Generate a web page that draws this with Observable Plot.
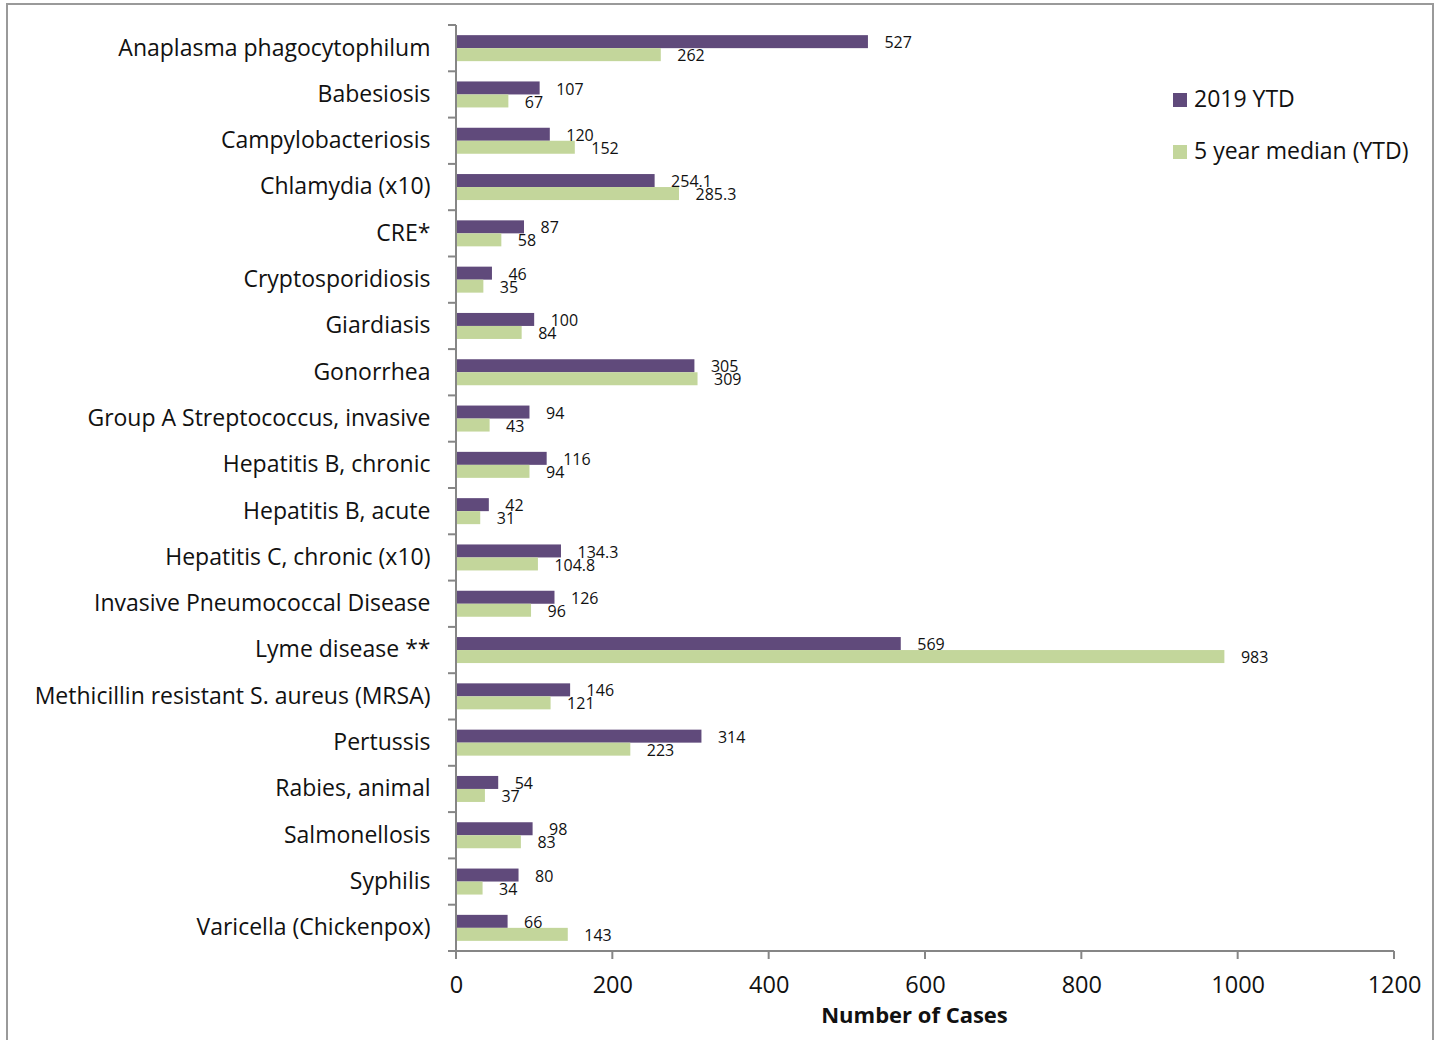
<!DOCTYPE html>
<html>
<head>
<meta charset="utf-8">
<script src="https://cdn.jsdelivr.net/npm/d3@7"></script>
<script src="https://cdn.jsdelivr.net/npm/@observablehq/plot@0.6"></script>
<style>
  html, body { margin: 0; padding: 0; background: #fff; }
  body { width: 1443px; height: 1040px; overflow: hidden; position: relative; font-family: "Open Sans", sans-serif; }
  #box { position: absolute; left: 6px; top: 3px; width: 1428px; height: 1100px; border: 2px solid #9a9a9a; box-sizing: border-box; }
  #chart { position: absolute; left: 0; top: 0; }
  .legend { position: absolute; left: 1173px; font-size: 23px; color: #111; font-family: "Open Sans", sans-serif; white-space: nowrap; }
  .legend span.sw { display: inline-block; width: 14px; height: 14px; margin-right: 7px; vertical-align: 0px; }
</style>
</head>
<body>
<div id="box"></div>
<div id="chart"></div>
<div class="legend" style="top:82px"><span class="sw" style="background:#604a7b"></span>2019 YTD</div>
<div class="legend" style="top:134px"><span class="sw" style="background:#c3d69b"></span>5 year median (YTD)</div>
<script>
const diseases = [
  "Anaplasma phagocytophilum",
  "Babesiosis",
  "Campylobacteriosis",
  "Chlamydia (x10)",
  "CRE*",
  "Cryptosporidiosis",
  "Giardiasis",
  "Gonorrhea",
  "Group A Streptococcus, invasive",
  "Hepatitis B, chronic",
  "Hepatitis B, acute",
  "Hepatitis C, chronic (x10)",
  "Invasive Pneumococcal Disease",
  "Lyme disease **",
  "Methicillin resistant S. aureus (MRSA)",
  "Pertussis",
  "Rabies, animal",
  "Salmonellosis",
  "Syphilis",
  "Varicella (Chickenpox)"
];
const ytd2019 = [527, 107, 120, 254.1, 87, 46, 100, 305, 94, 116, 42, 134.3, 126, 569, 146, 314, 54, 98, 80, 66];
const median5yr = [262, 67, 152, 285.3, 58, 35, 84, 309, 43, 94, 31, 104.8, 96, 983, 121, 223, 37, 83, 34, 143];
const xTicks = [0, 200, 400, 600, 800, 1000, 1200];

const seriesA = diseases.map((d, i) => ({disease: d, value: ytd2019[i]}));
const seriesB = diseases.map((d, i) => ({disease: d, value: median5yr[i]}));

const axisColor = "#868686";

// custom mark: axis lines and band-boundary ticks using the plot's scales
function axesLines(index, scales, values, dims) {
  const ns = "http://www.w3.org/2000/svg";
  const g = document.createElementNS(ns, "g");
  const x0 = scales.x(0), x1 = scales.x(1200);
  const top = dims.marginTop, bottom = dims.height - dims.marginBottom;
  function line(xa, ya, xb, yb) {
    const l = document.createElementNS(ns, "line");
    l.setAttribute("x1", xa); l.setAttribute("y1", ya);
    l.setAttribute("x2", xb); l.setAttribute("y2", yb);
    l.setAttribute("stroke", axisColor); l.setAttribute("stroke-width", 2);
    g.appendChild(l);
  }
  line(x0, top, x0, bottom);
  line(x0 - 8, bottom, x1, bottom);
  diseases.forEach(d => { const yy = scales.y(d); line(x0 - 8, yy, x0, yy); });
  xTicks.forEach(t => { const xx = scales.x(t); line(xx, bottom, xx, bottom + 8); });
  return g;
}

const chart = Plot.plot({
  width: 1443,
  height: 1040,
  marginLeft: 456,
  marginRight: 49,
  marginTop: 25,
  marginBottom: 89,
  style: {fontFamily: "Open Sans, sans-serif", background: "transparent", color: "#111"},
  x: {domain: [0, 1200], ticks: xTicks},
  y: {domain: diseases, padding: 0, align: 0.5, round: false},
  marks: [
    Plot.barX(seriesA, {y: "disease", x: "value", fill: "#604a7b", insetTop: 10.15, insetBottom: 23.15}),
    Plot.barX(seriesB, {y: "disease", x: "value", fill: "#c3d69b", insetTop: 23.15, insetBottom: 10.15}),
    Plot.text(seriesA, {y: "disease", x: "value", text: d => String(d.value), dx: 16, dy: -5.5, textAnchor: "start", fontSize: 16, fill: "#111"}),
    Plot.text(seriesB, {y: "disease", x: "value", text: d => String(d.value), dx: 16, dy: 7.5, textAnchor: "start", fontSize: 16, fill: "#111"}),
    Plot.axisY({tickSize: 0, tickPadding: 26, fontSize: 23, label: null, dy: -0.5}),
    Plot.axisX({ticks: xTicks, tickSize: 0, tickPadding: 25, fontSize: 23.5, label: null, tickFormat: d => String(d)}),
    axesLines,
    Plot.text(["Number of Cases"], {frameAnchor: "bottom", text: d => d, dy: 71, dx: -11, fontSize: 22, fontWeight: "bold", fill: "#111"})
  ]
});
document.getElementById("chart").appendChild(chart);
</script>
</body>
</html>
